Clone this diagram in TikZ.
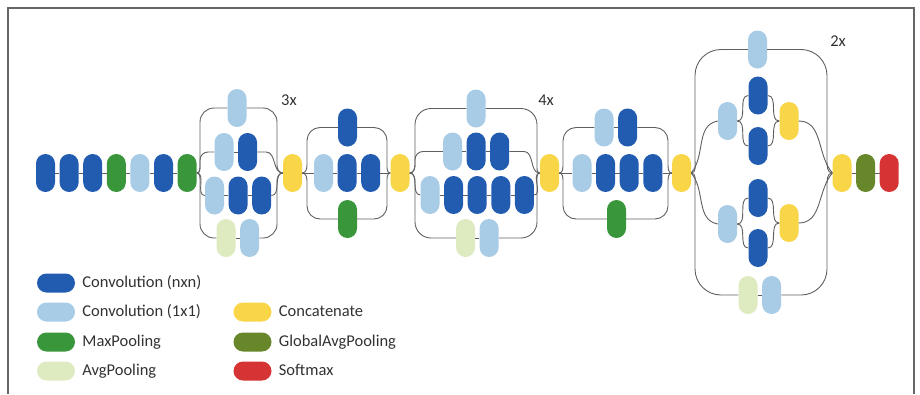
\documentclass[tikz,border=0pt]{standalone}
\usepackage{fontspec}
\setmainfont{Carlito}
\usetikzlibrary{positioning}
\definecolor{convDark}{RGB}{33, 92, 176}
\definecolor{convLight}{RGB}{168, 203, 230}
\definecolor{poolMax}{RGB}{58, 150, 58}
\definecolor{poolAvg}{RGB}{222, 234, 192}
\definecolor{concatYellow}{RGB}{249, 214, 72}
\definecolor{globalOlive}{RGB}{104, 134, 42}
\definecolor{softRed}{RGB}{214, 52, 52}
\definecolor{wireGray}{RGB}{95, 95, 95}
\definecolor{textGray}{RGB}{50, 50, 50}
\tikzset{
    % Base pill (vertical)
    pill/.style={
        rectangle,
        rounded corners=9.5pt,
        minimum width=19pt,
        minimum height=38pt,
        inner sep=0pt,
        draw=none
    },
    % Layer types
    convN/.style={pill, fill=convDark},
    conv1/.style={pill, fill=convLight},
    maxpool/.style={pill, fill=poolMax},
    avgpool/.style={pill, fill=poolAvg},
    concat/.style={pill, fill=concatYellow},
    gpool/.style={pill, fill=globalOlive},
    smax/.style={pill, fill=softRed},
    % Legend
    legpill/.style={rectangle, rounded corners=9.5pt, minimum width=38pt, minimum height=19pt, inner sep=0pt},
    legtext/.style={font=\fontsize{16.5}{19}\selectfont, text=textGray, inner sep=0pt, text height=11pt, text depth=3pt},
    % Wires & labels
    wire/.style={draw=wireGray, line width=0.9pt},
    rep/.style={font=\fontsize{16.5}{19}\selectfont, text=textGray},
    frame/.style={draw=gray!80!black, line width=1.5pt}
}
\begin{document}
\begin{tikzpicture}[
    x=1pt, y=1pt,
    node distance=4.2pt
]
    \useasboundingbox (0,0) rectangle (920,-394);
    \draw[frame] (8,-394) -- (8,-8) -- (914,-8) -- (914,-394);

    % --- STEM ---
    \node (s1) [convN] at (45.5,-173) {};
    \node (s2) [convN, right=of s1] {};
    \node (s3) [convN, right=of s2] {};
    \node (s4) [maxpool, right=of s3] {};
    \node (s5) [conv1, right=of s4] {};
    \node (s6) [convN, right=of s5] {};
    \node (s7) [maxpool, right=of s6] {};

    % --- BLOCK A (3x) ---
    \node (a1) [conv1] at (237,-108) {};
    \node (a21) [conv1] at (224,-152) {};
    \node (a22) [convN, right=of a21] {};
    \node (a31) [conv1] at (214.5,-195.5) {};
    \node (a32) [convN, right=of a31] {};
    \node (a33) [convN, right=of a32] {};
    \node (a41) [avgpool] at (226,-238) {};
    \node (a42) [conv1, right=of a41] {};
    \node (ya) [concat] at (292.5,-173) {};
    \node (repA) [rep] at (289,-100) {3x};

    % --- BLOCK B (reduction) ---
    \node (b1) [convN] at (347.5,-127.5) {};
    \node (b21) [conv1] at (323.5,-173) {};
    \node (b22) [convN, right=of b21] {};
    \node (b23) [convN, right=of b22] {};
    \node (b3) [maxpool] at (347.5,-219) {};
    \node (yb) [concat] at (400,-173) {};

    % --- BLOCK C (4x) ---
    \node (c1) [conv1] at (476,-108.5) {};
    \node (c21) [conv1] at (452.5,-151.5) {};
    \node (c22) [convN, right=of c21] {};
    \node (c23) [convN, right=of c22] {};
    \node (c31) [conv1] at (430,-195) {};
    \node (c32) [convN, right=of c31] {};
    \node (c33) [convN, right=of c32] {};
    \node (c34) [convN, right=of c33] {};
    \node (c35) [convN, right=of c34] {};
    \node (c41) [avgpool] at (465.5,-238) {};
    \node (c42) [conv1, right=of c41] {};
    \node (yc) [concat] at (549.5,-173) {};
    \node (repC) [rep] at (546,-100) {4x};

    % --- BLOCK D (reduction) ---
    \node (d11) [conv1] at (604,-127.5) {};
    \node (d12) [convN, right=of d11] {};
    \node (d21) [conv1] at (582,-173) {};
    \node (d22) [convN, right=of d21] {};
    \node (d23) [convN, right=of d22] {};
    \node (d24) [convN, right=of d23] {};
    \node (d3) [maxpool] at (616.5,-219) {};
    \node (yd) [concat] at (681.5,-173) {};

    % --- BLOCK E (2x) ---
    \node (e1) [conv1] at (757.5,-49.5) {};
    \node (e2) [conv1] at (727.5,-121) {};
    \node (e3) [convN] at (758,-95.5) {};
    \node (e4) [convN] at (758,-146) {};
    \node (e5) [concat] at (789,-121) {};
    \node (e6) [conv1] at (727.5,-224) {};
    \node (e7) [convN] at (758,-198) {};
    \node (e8) [convN] at (758,-248) {};
    \node (e9) [concat] at (789,-223) {};
    \node (e10) [avgpool] at (748,-295) {};
    \node (e11) [conv1, right=of e10] {};
    \node (repE) [rep] at (838,-41) {2x};

    % --- HEAD ---
    \node (f1) [concat] at (842,-173) {};
    \node (f2) [gpool, right=of f1] {};
    \node (f3) [smax, right=of f2] {};

    % --- Straight wires ---
    \foreach \u/\v in {s1/s2, s2/s3, s3/s4, s4/s5, s5/s6, s6/s7,
                       a21/a22, a31/a32, a32/a33, a41/a42,
                       ya/b21, b21/b22, b22/b23, b23/yb,
                       c21/c22, c22/c23, c31/c32, c32/c33, c33/c34, c34/c35, c41/c42,
                       d11/d12, yc/d21, d21/d22, d22/d23, d23/d24, d24/yd,
                       e10/e11, f1/f2, f2/f3}
        \draw[wire] (\u.east) -- (\v.west);

    % --- Block A forks ---
    \draw[wire] (s7.east) to[out=0, in=-90] (200,-165) -- (200,-122) to[out=90, in=180] (214,-108) -- (a1.west);
    \draw[wire] (s7.east) to[out=0, in=-90] (200,-165) -- (200,-160) to[out=90, in=180] (208,-152) -- (a21.west);
    \draw[wire] (s7.east) to[out=0, in=180] (a31.west);
    \draw[wire] (s7.east) to[out=0, in=90] (200,-181) -- (200,-224) to[out=-90, in=180] (214,-238) -- (a41.west);
    \draw[wire] (a1.east) -- (263,-108) to[out=0, in=90] (277,-122) -- (277,-165) to[out=-90, in=180] (ya.west);
    \draw[wire] (a22.east) -- (266,-152) to[out=0, in=180] (ya.west);
    \draw[wire] (a33.east) to[out=0, in=180] (ya.west);
    \draw[wire] (a42.east) -- (263,-238) to[out=0, in=-90] (277,-224) -- (277,-181) to[out=90, in=180] (ya.west);

    % --- Block B forks ---
    \draw[wire] (ya.east) to[out=0, in=-90] (307,-165) -- (307,-140.5) to[out=90, in=180] (320,-127.5) -- (b1.west);
    \draw[wire] (ya.east) to[out=0, in=90] (307,-181) -- (307,-206) to[out=-90, in=180] (320,-219) -- (b3.west);
    \draw[wire] (b1.east) -- (374,-127.5) to[out=0, in=90] (387,-140.5) -- (387,-165) to[out=-90, in=180] (yb.west);
    \draw[wire] (b3.east) -- (374,-219) to[out=0, in=-90] (387,-206) -- (387,-181) to[out=90, in=180] (yb.west);

    % --- Block C forks ---
    \draw[wire] (yb.east) to[out=0, in=-90] (415,-165) -- (415,-124.5) to[out=90, in=180] (431,-108.5) -- (c1.west);
    \draw[wire] (yb.east) to[out=0, in=-90] (415,-165) -- (415,-159.5) to[out=90, in=180] (423,-151.5) -- (c21.west);
    \draw[wire] (yb.east) to[out=0, in=180] (c31.west);
    \draw[wire] (yb.east) to[out=0, in=90] (415,-181) -- (415,-222) to[out=-90, in=180] (431,-238) -- (c41.west);
    \draw[wire] (c1.east) -- (521,-108.5) to[out=0, in=90] (537,-124.5) -- (537,-165) to[out=-90, in=180] (yc.west);
    \draw[wire] (c23.east) -- (524,-151.5) to[out=0, in=180] (yc.west);
    \draw[wire] (c35.east) to[out=0, in=180] (yc.west);
    \draw[wire] (c42.east) -- (521,-238) to[out=0, in=-90] (537,-222) -- (537,-181) to[out=90, in=180] (yc.west);

    % --- Block D forks ---
    \draw[wire] (yc.east) to[out=0, in=-90] (563,-165) -- (563,-140.5) to[out=90, in=180] (576,-127.5) -- (d11.west);
    \draw[wire] (yc.east) to[out=0, in=90] (563,-181) -- (563,-206) to[out=-90, in=180] (576,-219) -- (d3.west);
    \draw[wire] (d12.east) -- (655,-127.5) to[out=0, in=90] (668,-140.5) -- (668,-165) to[out=-90, in=180] (yd.west);
    \draw[wire] (d3.east) -- (655,-219) to[out=0, in=-90] (668,-206) -- (668,-181) to[out=90, in=180] (yd.west);

    % --- Block E forks ---
    \draw[wire] (yd.east) to[out=0, in=-90] (695,-160) -- (695,-75.5) to[out=90, in=180] (721,-49.5) -- (e1.west);
    \draw[wire] (yd.east) to[out=0, in=90] (695,-186) -- (695,-269) to[out=-90, in=180] (721,-295) -- (e10.west);
    \draw[wire] (yd.east) to[out=50, in=190] (e2.west);
    \draw[wire] (yd.east) to[out=-50, in=170] (e6.west);
    \draw[wire] (e2.east) to[out=0, in=180] (e3.west);
    \draw[wire] (e2.east) to[out=0, in=180] (e4.west);
    \draw[wire] (e6.east) to[out=0, in=180] (e7.west);
    \draw[wire] (e6.east) to[out=0, in=180] (e8.west);
    \draw[wire] (e3.east) to[out=0, in=180] (e5.west);
    \draw[wire] (e4.east) to[out=0, in=180] (e5.west);
    \draw[wire] (e7.east) to[out=0, in=180] (e9.west);
    \draw[wire] (e8.east) to[out=0, in=180] (e9.west);
    \draw[wire] (e5.east) to[out=0, in=130] (f1.west);
    \draw[wire] (e9.east) to[out=0, in=230] (f1.west);
    \draw[wire] (e1.east) -- (801,-49.5) to[out=0, in=90] (827,-75.5) -- (827,-160) to[out=-90, in=180] (f1.west);
    \draw[wire] (e11.east) -- (801,-295) to[out=0, in=-90] (827,-269) -- (827,-186) to[out=90, in=180] (f1.west);

    % --- LEGEND ---
    \node (l1) [legpill, fill=convDark] at (56,-283) {};
    \node (t1) [legtext, right=7pt of l1] {Convolution (nxn)};
    \node (l2) [legpill, fill=convLight] at (56,-312) {};
    \node (t2) [legtext, right=7pt of l2] {Convolution (1x1)};
    \node (l3) [legpill, fill=poolMax] at (56,-342) {};
    \node (t3) [legtext, right=7pt of l3] {MaxPooling};
    \node (l4) [legpill, fill=poolAvg] at (56,-371) {};
    \node (t4) [legtext, right=7pt of l4] {AvgPooling};
    \node (l5) [legpill, fill=concatYellow] at (252.5,-312) {};
    \node (t5) [legtext, right=7pt of l5] {Concatenate};
    \node (l6) [legpill, fill=globalOlive] at (252.5,-342) {};
    \node (t6) [legtext, right=7pt of l6] {GlobalAvgPooling};
    \node (l7) [legpill, fill=softRed] at (252.5,-371) {};
    \node (t7) [legtext, right=7pt of l7] {Softmax};

\end{tikzpicture}
\end{document}
